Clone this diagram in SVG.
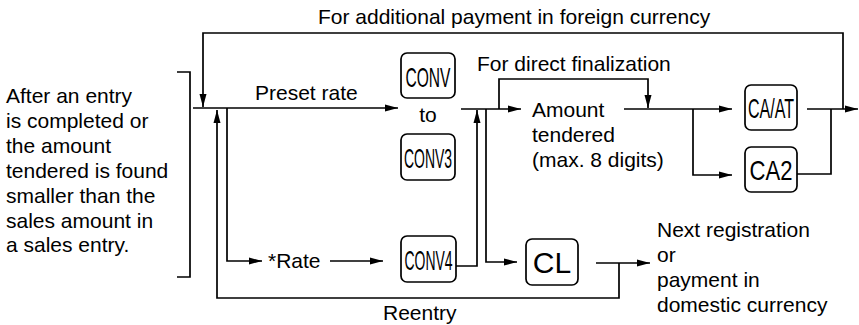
<svg xmlns="http://www.w3.org/2000/svg" width="859" height="325" viewBox="0 0 859 325">
<style>
text{font-family:"Liberation Sans",Arial,sans-serif;font-size:21px;fill:#000}
.k{font-size:28px}
.ln{fill:none;stroke:#000;stroke-width:1.7}
.key{fill:#fff;stroke:#000;stroke-width:1.7}
</style>
<defs>
<marker id="ah" markerUnits="userSpaceOnUse" markerWidth="14" markerHeight="8" refX="13" refY="4" orient="auto">
<path d="M0,0.5 L13,4 L0,7.5 z" fill="#000"/>
</marker>
</defs>
<rect width="859" height="325" fill="#fff"/>

<g id="labels">
<text x="318" y="24">For additional payment in foreign currency</text>
<text x="477" y="71">For direct finalization</text>
<text x="255" y="100">Preset rate</text>
<text x="383" y="320">Reentry</text>
</g>

<g id="condition">
<text x="6" y="103">After an entry</text>
<text x="6" y="128">is completed or</text>
<text x="6" y="153">the amount</text>
<text x="6" y="178">tendered is found</text>
<text x="6" y="203">smaller than the</text>
<text x="6" y="228">sales amount in</text>
<text x="6" y="252">a sales entry.</text>
<path class="ln" d="M177 72 H190 V277 H177"/>
</g>

<g id="rate">
<text x="268" y="268">*Rate</text>
</g>

<g id="conv">
<rect class="key" x="401" y="53" width="54" height="45" rx="6"/>
<text class="k" x="428" y="87" text-anchor="middle" textLength="45" lengthAdjust="spacingAndGlyphs">CONV</text>
</g>
<g id="to">
<text x="428" y="122" text-anchor="middle">to</text>
</g>
<g id="conv3">
<rect class="key" x="401" y="134" width="54" height="46" rx="6"/>
<text class="k" x="428" y="168" text-anchor="middle" textLength="48" lengthAdjust="spacingAndGlyphs">CONV3</text>
</g>
<g id="conv4">
<rect class="key" x="401" y="236" width="55" height="46" rx="6"/>
<text class="k" x="428.5" y="270" text-anchor="middle" textLength="48" lengthAdjust="spacingAndGlyphs">CONV4</text>
</g>

<g id="amount">
<text x="532" y="117">Amount</text>
<text x="532" y="142">tendered</text>
<text x="532" y="167">(max. 8 digits)</text>
</g>

<g id="caat">
<rect class="key" x="745" y="85" width="52" height="45" rx="6"/>
<text class="k" x="771" y="118" text-anchor="middle" textLength="46" lengthAdjust="spacingAndGlyphs">CA/AT</text>
</g>
<g id="ca2">
<rect class="key" x="745" y="147" width="52" height="45" rx="6"/>
<text x="771" y="180" text-anchor="middle" style="font-size:28px" textLength="43" lengthAdjust="spacingAndGlyphs">CA2</text>
</g>
<g id="cl">
<rect class="key" x="526" y="239" width="52" height="46" rx="6"/>
<text x="552" y="273" text-anchor="middle" style="font-size:30px">CL</text>
</g>

<g id="next">
<text x="657" y="237">Next registration</text>
<text x="657" y="262">or</text>
<text x="657" y="287">payment in</text>
<text x="657" y="312">domestic currency</text>
</g>

<g id="connectors">
<path class="ln" d="M843 109 V33 H203 V107" marker-end="url(#ah)"/>
<path class="ln" d="M193 108 H398" marker-end="url(#ah)"/>
<path class="ln" d="M619 263 V298 H217 V110" marker-end="url(#ah)"/>
<path class="ln" d="M227 108 V261 H262" marker-end="url(#ah)"/>
<path class="ln" d="M330 261 H383" marker-end="url(#ah)"/>
<path class="ln" d="M456 266 H477 V110" marker-end="url(#ah)"/>
<path class="ln" d="M461 109 H521" marker-end="url(#ah)"/>
<path class="ln" d="M499 109 V79 H648 V108" marker-end="url(#ah)"/>
<path class="ln" d="M486 109 V262 H517" marker-end="url(#ah)"/>
<path class="ln" d="M624 109 H732" marker-end="url(#ah)"/>
<path class="ln" d="M693 109 V175 H732" marker-end="url(#ah)"/>
<path class="ln" d="M807 109 H858" marker-end="url(#ah)"/>
<path class="ln" d="M797 174 H831 V109"/>
<path class="ln" d="M596 263 H650" marker-end="url(#ah)"/>
</g>
</svg>
